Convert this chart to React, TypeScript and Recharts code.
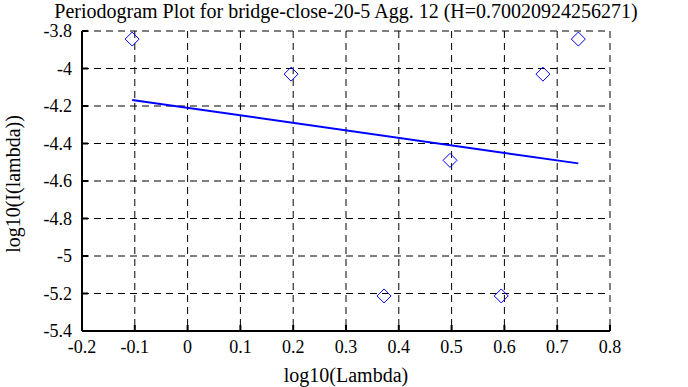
import React from "react";
import {
  ScatterChart,
  Scatter,
  XAxis,
  YAxis,
  CartesianGrid,
} from "recharts";

const logLambda = [-0.105, 0.196, 0.372, 0.497, 0.594, 0.673, 0.74];
const logPower = [-3.843, -4.03, -5.213, -4.49, -5.213, -4.03, -3.843];
const fitX = [-0.105, 0.74];
const fitY = [-4.168, -4.506];
const xTicks = [-0.2, -0.1, 0, 0.1, 0.2, 0.3, 0.4, 0.5, 0.6, 0.7, 0.8];
const yTicks = [-5.4, -5.2, -5, -4.8, -4.6, -4.4, -4.2, -4, -3.8];

const points = logLambda.map((x, i) => ({ x, y: logPower[i] }));
const fit = fitX.map((x, i) => ({ x, y: fitY[i] }));

const FONT = "Liberation Serif, DejaVu Serif, serif";

const Diamond = (props: any) => {
  const { cx, cy } = props;
  const r = 7;
  return (
    <path
      d={`M${cx},${cy - r}L${cx + r},${cy}L${cx},${cy + r}L${cx - r},${cy}Z`}
      fill="none"
      stroke="#0000ff"
      strokeWidth={1}
    />
  );
};

const fmt = (v: number) => String(Math.round(v * 10) / 10);

const XTick = (props: any) => {
  const { x, y, payload } = props;
  return (
    <text
      x={x}
      y={y + 26}
      textAnchor="middle"
      fontFamily={FONT}
      fontSize={18}
      fill="#000"
    >
      {fmt(payload.value)}
    </text>
  );
};

const YTick = (props: any) => {
  const { y, payload } = props;
  return (
    <text
      x={72}
      y={y + 6}
      textAnchor="end"
      fontFamily={FONT}
      fontSize={18}
      fill="#000"
    >
      {fmt(payload.value)}
    </text>
  );
};

const textBase: React.CSSProperties = {
  position: "absolute",
  fontFamily: FONT,
  fontSize: 20,
  lineHeight: "24px",
  color: "#000",
  whiteSpace: "nowrap",
};

export default function App() {
  return (
    <div style={{ position: "absolute", left: 0, top: 0, width: 688, height: 387 }}>
      <div style={{ ...textBase, left: 0, top: -1, width: 692, textAlign: "center" }}>
        Periodogram Plot for bridge-close-20-5 Agg. 12 (H=0.70020924256271)
      </div>
      <div
        style={{
          ...textBase,
          left: 13,
          top: 184,
          transform: "translate(-50%, -50%) rotate(-90deg)",
        }}
      >
        log10(I(lambda))
      </div>
      <div
        style={{
          ...textBase,
          left: 346,
          top: 375,
          transform: "translate(-50%, -50%)",
        }}
      >
        log10(Lambda)
      </div>
      <ScatterChart
        width={688}
        height={387}
        margin={{ top: 31, right: 78, bottom: 0, left: 0 }}
        style={{ position: "absolute", left: 0, top: 0 }}
      >
        <CartesianGrid
          stroke="#000"
          strokeDasharray="7 5"
          horizontalValues={yTicks}
          verticalValues={xTicks}
        />
        <XAxis
          type="number"
          dataKey="x"
          domain={[-0.2, 0.8]}
          ticks={xTicks}
          height={56}
          axisLine={{ stroke: "#000", strokeWidth: 2 }}
          tickLine={{ stroke: "#000", strokeWidth: 2 }}
          tickSize={-6}
          tick={<XTick />}
          allowDataOverflow
        />
        <XAxis
          xAxisId="top"
          orientation="top"
          type="number"
          domain={[-0.2, 0.8]}
          ticks={xTicks}
          height={0}
          tick={false}
          axisLine={{ stroke: "#000", strokeWidth: 2 }}
          tickLine={{ stroke: "#000", strokeWidth: 2 }}
          tickSize={-6}
          allowDataOverflow
        />
        <YAxis
          type="number"
          dataKey="y"
          domain={[-5.4, -3.8]}
          ticks={yTicks}
          width={82}
          axisLine={{ stroke: "#000", strokeWidth: 2 }}
          tickLine={{ stroke: "#000", strokeWidth: 2 }}
          tickSize={-6}
          tick={<YTick />}
          allowDataOverflow
        />
        <YAxis
          yAxisId="right"
          orientation="right"
          type="number"
          domain={[-5.4, -3.8]}
          ticks={yTicks}
          width={0}
          tick={false}
          axisLine={{ stroke: "#000", strokeWidth: 2 }}
          tickLine={{ stroke: "#000", strokeWidth: 2 }}
          tickSize={-6}
          allowDataOverflow
        />
        <Scatter
          data={fit}
          line={{ stroke: "#0000ff", strokeWidth: 2 }}
          shape={() => null}
          isAnimationActive={false}
        />
        <Scatter data={points} shape={Diamond} isAnimationActive={false} />
      </ScatterChart>
    </div>
  );
}
